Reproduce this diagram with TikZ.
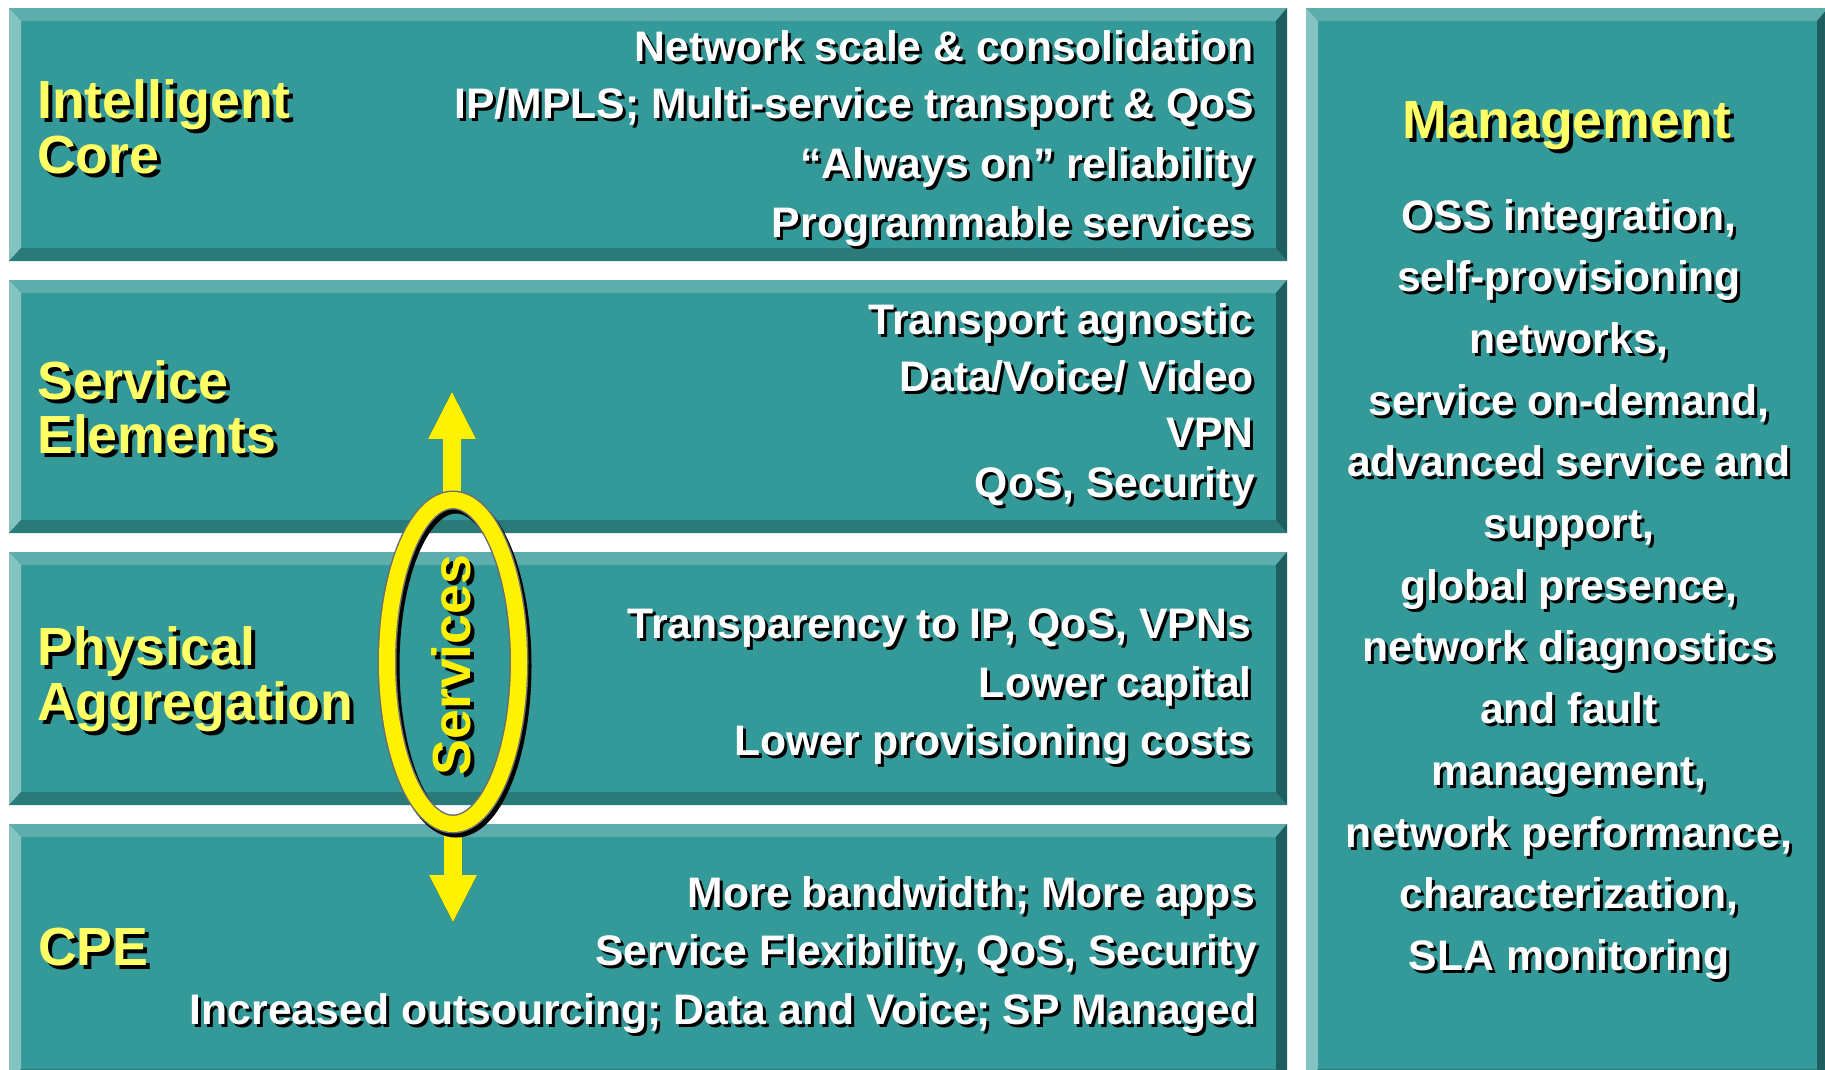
\documentclass[tikz,border=0pt]{standalone}
\usepackage{fontspec}
\setmainfont{Liberation Sans}
\usetikzlibrary{shapes.geometric}

\definecolor{face}{HTML}{339999}
\definecolor{bvtop}{HTML}{5EADAD}
\definecolor{bvleft}{HTML}{85C2C2}
\definecolor{bvbottom}{HTML}{2B7A7A}
\definecolor{bvright}{HTML}{1F5E5E}
\definecolor{titleyellow}{HTML}{FFFF66}
\definecolor{ringgray}{HTML}{6E6E6E}

% text with a black drop shadow: #1 horizontal, #2 vertical offset
\newcommand\shtext[3]{\leavevmode\rlap{\kern#1\raisebox{#2}{\color{black}#3}}#3}

% bevelled panel: name, x1, y1, x2, y2 (y grows downwards)
\newcommand\bevelbox[5]{%
  \node[fill=face, inner sep=0pt, outer sep=0pt, anchor=north west,
        minimum width={#4-#2}, minimum height={#5-#3}] (#1) at (#2,#3) {};
  \fill[bvtop]    (#2,#3) -- (#4,#3) -- (#4-11,#3+13) -- (#2+12,#3+13) -- cycle;
  \fill[bvleft]   (#2,#3) -- (#2+12,#3+13) -- (#2+12,#5-13) -- (#2,#5) -- cycle;
  \fill[bvbottom] (#2,#5) -- (#2+12,#5-13) -- (#4-11,#5-13) -- (#4,#5) -- cycle;
  \fill[bvright]  (#4,#3) -- (#4,#5) -- (#4-11,#5-13) -- (#4-11,#3+13) -- cycle;
}

\tikzset{
  body/.style={text=white, font=\fontsize{42.7}{48}\selectfont\bfseries,
               inner sep=0pt, anchor=base east},
  mgmt/.style={text=white, font=\fontsize{42.7}{48}\selectfont\bfseries,
               inner sep=0pt, anchor=base},
  title/.style={text=titleyellow, font=\fontsize{53.7}{60}\selectfont\bfseries,
                inner sep=0pt, anchor=base west},
  arrowshadow/.style={fill=black, shift={(3,4)}},
  arrowbody/.style={fill=yellow},
}

\begin{document}
\begin{tikzpicture}[x=1pt, y=-1pt]
\useasboundingbox (0,0) rectangle (1825,1069);
\fill[white] (0,0) rectangle (1825,1069);

% layer panels and management panel
\bevelbox{core}{9}{8}{1287}{261}
\bevelbox{svc}{9}{280}{1287}{533}
\bevelbox{phys}{9}{552}{1287}{805}
\bevelbox{cpe}{9}{824}{1287}{1082}
\bevelbox{mgmtbox}{1306}{8}{1828}{1082}

% layer titles
\node[title] (t1a) at (37,118) {\shtext{4pt}{-4pt}{Intelligent}};
\node[title] (t1b) at (37,173) {\shtext{4pt}{-4pt}{Core}};
\node[title] (t2a) at (37,399) {\shtext{4pt}{-4pt}{Service}};
\node[title] (t2b) at (37,453) {\shtext{4pt}{-4pt}{Elements}};
\node[title] (t3a) at (37,665) {\shtext{4pt}{-4pt}{Physical}};
\node[title] (t3b) at (37,720) {\shtext{4pt}{-4pt}{Aggregation}};
\node[title] (t4)  at (38,965) {\shtext{4pt}{-4pt}{CPE}};

% intelligent core
\node[body] (c1) at (1254,61)  {\shtext{3pt}{-3pt}{Network scale \& consolidation}};
\node[body] (c2) at (1254,118) {\shtext{3pt}{-3pt}{IP/MPLS; Multi-service transport \& QoS}};
\node[body] (c3) at (1254,178) {\shtext{3pt}{-3pt}{“Always on” reliability}};
\node[body] (c4) at (1254,237) {\shtext{3pt}{-3pt}{Programmable services}};

% service elements
\node[body] (s1) at (1253,334) {\shtext{3pt}{-3pt}{Transport agnostic}};
\node[body] (s2) at (1254,391) {\shtext{3pt}{-3pt}{Data/Voice/ Video}};
\node[body] (s3) at (1254,447) {\shtext{3pt}{-3pt}{VPN}};
\node[body] (s4) at (1255,497) {\shtext{3pt}{-3pt}{QoS, Security}};

% physical aggregation
\node[body] (p1) at (1251,638) {\shtext{3pt}{-3pt}{Transparency to IP, QoS, VPNs}};
\node[body] (p2) at (1252,697) {\shtext{3pt}{-3pt}{Lower capital}};
\node[body] (p3) at (1252,755) {\shtext{3pt}{-3pt}{Lower provisioning costs}};

% CPE
\node[body] (e1) at (1255,907)  {\shtext{3pt}{-3pt}{More bandwidth; More apps}};
\node[body] (e2) at (1257,965)  {\shtext{3pt}{-3pt}{Service Flexibility, QoS, Security}};
\node[body] (e3) at (1257,1024) {\shtext{3pt}{-3pt}{Increased outsourcing; Data and Voice; SP Managed}};

% management column
\node[title, anchor=base] (mt) at (1567,138) {\shtext{4pt}{-4pt}{Management}};
\node[mgmt] (m0)  at (1569,230)   {\shtext{3pt}{-3pt}{OSS integration,}};
\node[mgmt] (m1)  at (1569,291.7) {\shtext{3pt}{-3pt}{self-provisioning}};
\node[mgmt] (m2)  at (1569,353.4) {\shtext{3pt}{-3pt}{networks,}};
\node[mgmt] (m3)  at (1569,415.1) {\shtext{3pt}{-3pt}{service on-demand,}};
\node[mgmt] (m4)  at (1569,476.8) {\shtext{3pt}{-3pt}{advanced service and}};
\node[mgmt] (m5)  at (1569,538.5) {\shtext{3pt}{-3pt}{support,}};
\node[mgmt] (m6)  at (1569,600.2) {\shtext{3pt}{-3pt}{global presence,}};
\node[mgmt] (m7)  at (1569,661.9) {\shtext{3pt}{-3pt}{network diagnostics}};
\node[mgmt] (m8)  at (1569,723.6) {\shtext{3pt}{-3pt}{and fault}};
\node[mgmt] (m9)  at (1569,785.3) {\shtext{3pt}{-3pt}{management,}};
\node[mgmt] (m10) at (1569,847)   {\shtext{3pt}{-3pt}{network performance,}};
\node[mgmt] (m11) at (1569,908.7) {\shtext{3pt}{-3pt}{characterization,}};
\node[mgmt] (m12) at (1569,970.4) {\shtext{3pt}{-3pt}{SLA monitoring}};

% services ring geometry
\coordinate (ringc) at (453,662);
\coordinate (uptip) at (452,392);
\coordinate (downtip) at (453,922);

% up and down block arrows (shadow first)
\foreach \s in {arrowshadow, arrowbody}{
  \fill[\s] (uptip) -- ([shift={(24,47)}]uptip) -- ([shift={(9,47)}]uptip)
    -- ([shift={(9,115)}]uptip) -- ([shift={(-9,115)}]uptip)
    -- ([shift={(-9,47)}]uptip) -- ([shift={(-24,47)}]uptip) -- cycle;
  \fill[\s] (downtip) -- ([shift={(24,-47)}]downtip) -- ([shift={(9,-47)}]downtip)
    -- ([shift={(9,-100)}]downtip) -- ([shift={(-9,-100)}]downtip)
    -- ([shift={(-9,-47)}]downtip) -- ([shift={(-24,-47)}]downtip) -- cycle;
}

% services ring: shadow, grey rim, yellow band
\node[ellipse, draw=black, line width=19pt, minimum width=132pt, minimum height=324pt,
      inner sep=0pt, shift={(3,4)}] at (ringc) {};
\node[ellipse, draw=ringgray, line width=19pt, minimum width=132pt, minimum height=324pt,
      inner sep=0pt] (ring) at (ringc) {};
\node[ellipse, draw=yellow, line width=16pt, minimum width=132pt, minimum height=324pt,
      inner sep=0pt] at (ringc) {};

\node[text=yellow, font=\fontsize{53.7}{60}\selectfont\bfseries, inner sep=0pt,
      anchor=base, rotate=90] (svcl) at (470,665) {\shtext{-4pt}{-4pt}{Services}};
\end{tikzpicture}
\end{document}
